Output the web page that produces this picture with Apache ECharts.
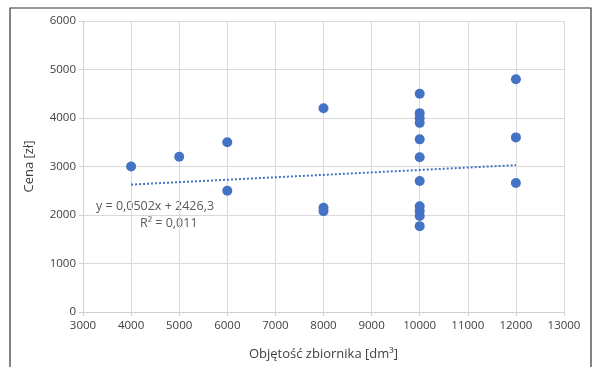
<!DOCTYPE html>
<html><head><meta charset="utf-8">
<script src="https://cdn.jsdelivr.net/npm/echarts@6/dist/echarts.min.js"></script>
<style>html,body{margin:0;padding:0;background:#fff}#c{width:597px;height:367px}</style>
</head><body><div id="c"></div>
<script>
const volumes = [4000, 5000, 6000, 6000, 8000, 8000, 8000,
  10000, 10000, 10000, 10000, 10000, 10000, 10000, 10000, 10000, 10000, 10000,
  12000, 12000, 12000];
const prices = [3000, 3200, 3500, 2500, 4200, 2150, 2080,
  4500, 4100, 4000, 3900, 3560, 3190, 2700, 2180, 2080, 1980, 1770,
  4800, 3600, 2660];
const trendSlope = 0.0502;
const trendIntercept = 2426.3;
const trendX = [4000, 12000];
const eqText = 'y = 0,0502x + 2426,3';
const r2Text = 'R² = 0,011';
const xTitle = 'Objętość zbiornika [dm³]';
const yTitle = 'Cena [zł]';

const pts = volumes.map((v, i) => [v, prices[i]]);
const trend = trendX.map(x => [x, trendSlope * x + trendIntercept]);
const font = '"Open Sans", "Liberation Sans", sans-serif';
const chart = echarts.init(document.getElementById('c'), null, {renderer: 'canvas'});
chart.setOption({
  animation: false,
  backgroundColor: '#fff',
  grid: {left: 83, right: 33, top: 21, bottom: 55},
  xAxis: {
    type: 'value', min: 3000, max: 13000, interval: 1000,
    name: xTitle, nameLocation: 'middle', nameGap: 36,
    nameTextStyle: {color: '#404040', fontSize: 13, fontFamily: font},
    axisLine: {show: true, lineStyle: {color: '#d0d0d0'}},
    axisTick: {show: true, length: 4, lineStyle: {color: '#d0d0d0'}},
    axisLabel: {color: '#404040', fontSize: 11.5, fontFamily: font, margin: 8, formatter: v => String(v)},
    splitLine: {show: true, lineStyle: {color: '#d9d9d9'}}
  },
  yAxis: {
    type: 'value', min: 0, max: 6000, interval: 1000,
    name: yTitle, nameLocation: 'middle', nameGap: 47, nameRotate: 90,
    nameTextStyle: {color: '#404040', fontSize: 13, fontFamily: font},
    axisLine: {show: true, lineStyle: {color: '#d0d0d0'}},
    axisTick: {show: true, length: 4, lineStyle: {color: '#d0d0d0'}},
    axisLabel: {color: '#404040', fontSize: 11.5, fontFamily: font, margin: 7, formatter: v => String(v)},
    splitLine: {show: true, lineStyle: {color: '#d9d9d9'}}
  },
  graphic: [
    {type: 'polyline', shape: {points: [[10, 367], [10, 8], [591, 8], [591, 367]]},
     style: {stroke: '#333', lineWidth: 1.2, fill: null}, silent: true},
    {type: 'text', left: 96, top: 200, style: {text: eqText, fill: '#595959', font: '12.5px ' + font}},
    {type: 'text', left: 140, top: 217, style: {text: r2Text, fill: '#595959', font: '12.5px ' + font}}
  ],
  series: [
    {type: 'line', data: trend, symbol: 'none', z: 1,
     lineStyle: {color: '#4472c4', width: 2, type: [2, 2]}},
    {type: 'scatter', data: pts, symbolSize: 10, z: 2,
     itemStyle: {color: '#4472c4', opacity: 1}}
  ]
});
</script></body></html>
